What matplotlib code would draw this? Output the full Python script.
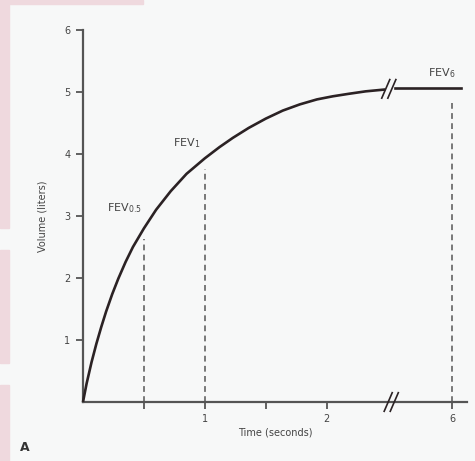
import matplotlib
matplotlib.use("Agg")
import matplotlib.pyplot as plt
from matplotlib.patches import Rectangle

# volume-time curve (seconds, liters)
time_s = [0.0, 0.03, 0.07, 0.11, 0.15, 0.19, 0.24, 0.29, 0.35, 0.41, 0.5,
          0.6, 0.72, 0.85, 1.0, 1.12, 1.23, 1.36, 1.5, 1.64, 1.78, 1.92,
          2.05, 2.18, 2.32, 2.48]
volume_l = [0.0, 0.3, 0.64, 0.94, 1.21, 1.46, 1.74, 1.99, 2.26, 2.5, 2.8,
            3.1, 3.4, 3.68, 3.93, 4.11, 4.26, 4.42, 4.57, 4.7, 4.8, 4.88,
            4.93, 4.97, 5.01, 5.04]
# plateau after the axis break
tail_time = [5.53, 6.07]
tail_volume = [5.06, 5.06]

markers = ["FEV$_{0.5}$", "FEV$_1$", "FEV$_6$"]
marker_time = [0.5, 1.0, 6.0]
marker_volume = [2.8, 3.93, 5.06]

y_ticks = [1, 2, 3, 4, 5, 6]
x_ticks = [0.5, 1, 1.5, 2, 6]
x_tick_labels = ["", "1", "", "2", "6"]

# time after the break is drawn shifted left
BREAK_SHIFT = 6 - 3.03


def xpos(t):
    return t - BREAK_SHIFT if t > 3 else t


ink = "#2b2224"
axis_col = "#555555"
txt = "#444444"

fig = plt.figure(figsize=(4.75, 4.61), dpi=100)
fig.patch.set_facecolor("#f7f8f8")
# pink bits of the scanned page border
for y0, h in [(0.0, 0.165), (0.213, 0.245), (0.505, 0.495)]:
    fig.patches.append(Rectangle((0, y0), 0.019, h, transform=fig.transFigure,
                                 color="#efd9de", zorder=0))
fig.patches.append(Rectangle((0, 0.992), 0.3, 0.008, transform=fig.transFigure,
                             color="#efd9de", zorder=0))

ax = fig.add_axes([0.1747, 0.1280, 0.808, 0.807])
ax.set_facecolor("none")
ax.set_xlim(0, 3.15)
ax.set_ylim(0, 6)

ax.plot(time_s, volume_l, color=ink, lw=1.9, solid_joinstyle="round",
        solid_capstyle="butt", clip_on=False, zorder=3)
ax.plot([xpos(t) for t in tail_time], tail_volume, color=ink, lw=1.9,
        clip_on=False, zorder=3)

# dashed drop lines
for t, v in zip(marker_time, marker_volume):
    ax.plot([xpos(t), xpos(t)], [0, v - 0.17], color="#6e6e6e", lw=1.3,
            ls=(0, (3.2, 2.4)), clip_on=False, zorder=2)

# labels of the markers
ax.text(0.48, 3.13, markers[0], fontsize=8, color=txt, ha="right", va="center")
ax.text(0.96, 4.18, markers[1], fontsize=8, color=txt, ha="right", va="center")
ax.text(3.06, 5.3, markers[2], fontsize=8, color=txt, ha="right", va="center")

# break marks on the axis and on the curve
for xc, y in [(2.53, 0.0), (2.51, 5.05)]:
    for dx in [-0.025, 0.025]:
        ax.plot([xc + dx - 0.033, xc + dx + 0.033], [y - 0.15, y + 0.15],
                color=ink, lw=1.2, clip_on=False, zorder=4)

for side in ["top", "right"]:
    ax.spines[side].set_visible(False)
ax.spines["left"].set_color(axis_col)
ax.spines["bottom"].set_color(axis_col)
ax.spines["left"].set_linewidth(1.6)
ax.spines["bottom"].set_linewidth(1.6)

ax.set_yticks(y_ticks)
ax.set_xticks([xpos(t) for t in x_ticks])
ax.set_xticklabels(x_tick_labels)
ax.tick_params(axis="both", colors=axis_col, labelcolor=txt, labelsize=7,
               length=5, width=1.3, pad=4)

ax.set_xlabel("Time (seconds)", fontsize=7, color=txt, labelpad=2)
ax.set_ylabel("Volume (liters)", fontsize=7, color=txt, labelpad=12)

fig.text(0.042, 0.022, "A", fontsize=9, color="#333333", fontweight="bold")

fig.savefig("out.png", dpi=100, facecolor=fig.get_facecolor())
